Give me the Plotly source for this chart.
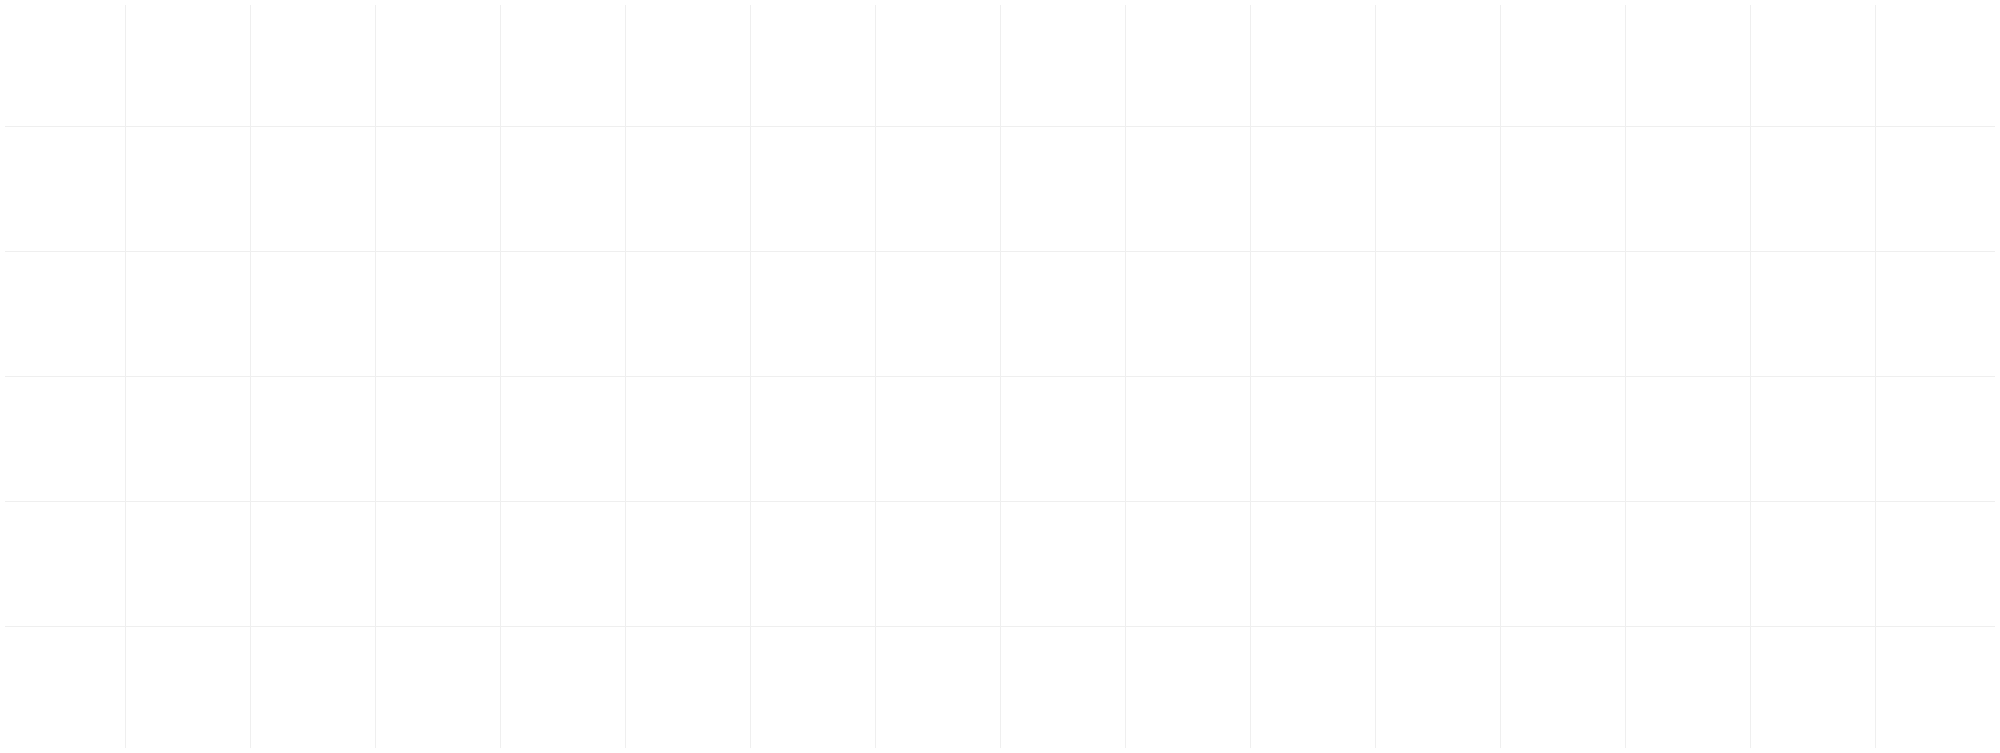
import plotly.graph_objects as go

# Grid positions (no data marks are visible in the reference)
x_ticks = [1, 2, 3, 4, 5, 6, 7, 8, 9, 10, 11, 12, 13, 14, 15]
y_ticks = [1, 2, 3, 4, 5]
x_range = [0.04, 15.96]
y_range = [0.024, 5.968]

fig = go.Figure()
fig.add_trace(go.Scatter(x=[], y=[], mode="markers", showlegend=False, hoverinfo="skip"))

grid_color = "#efefef"
fig.update_layout(
    width=2000,
    height=753,
    margin=dict(l=5, r=5, t=5, b=5),
    paper_bgcolor="white",
    plot_bgcolor="white",
    showlegend=False,
    xaxis=dict(
        range=x_range,
        tickvals=x_ticks,
        showticklabels=False,
        showgrid=True,
        gridcolor=grid_color,
        gridwidth=1,
        zeroline=False,
        showline=False,
        ticks="",
        fixedrange=True,
    ),
    yaxis=dict(
        range=y_range,
        tickvals=y_ticks,
        showticklabels=False,
        showgrid=True,
        gridcolor=grid_color,
        gridwidth=1,
        zeroline=False,
        showline=False,
        ticks="",
        fixedrange=True,
    ),
)

fig.write_html(
    "out.html",
    config={"displayModeBar": False},
    post_script="document.body.style.margin='0';document.body.style.overflow='hidden';",
)
